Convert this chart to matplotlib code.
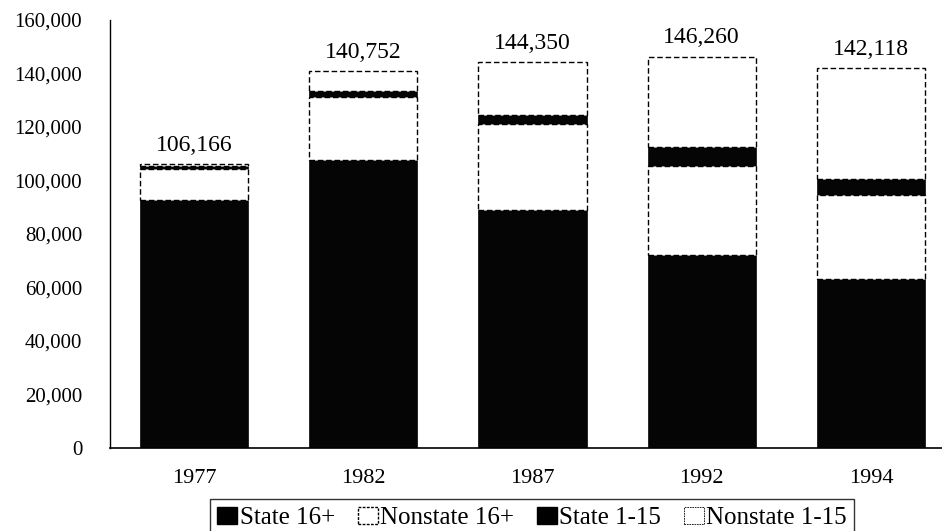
import matplotlib
matplotlib.use("Agg")
import matplotlib.pyplot as plt
from matplotlib.patches import Patch

plt.rcParams['font.family'] = ['Liberation Serif', 'DejaVu Serif']

years = ["1977", "1982", "1987", "1992", "1994"]
state_16 = [92600, 107600, 89000, 72300, 63300]
nonstate_16 = [11700, 23800, 32300, 33300, 31200]
state_1_15 = [1200, 1900, 3300, 6800, 5900]
totals = [106166, 140752, 144350, 146260, 142118]
nonstate_1_15 = [t - a - b - c for t, a, b, c in zip(totals, state_16, nonstate_16, state_1_15)]
total_labels = ["106,166", "140,752", "144,350", "146,260", "142,118"]
y_ticks = [0, 20000, 40000, 60000, 80000, 100000, 120000, 140000, 160000]
y_tick_labels = ["0", "20,000", "40,000", "60,000", "80,000", "100,000", "120,000", "140,000", "160,000"]

fig = plt.figure(figsize=(9.42, 5.31), dpi=100)
ax = fig.add_axes([110/942, 83/531, 832/942, (448-20)/531])

x = list(range(len(years)))
w = 0.64
bottom = [0]*len(years)
series = [
    (state_16, "State 16+", "black"),
    (nonstate_16, "Nonstate 16+", "white"),
    (state_1_15, "State 1-15", "black"),
    (nonstate_1_15, "Nonstate 1-15", "white"),
]
for vals, lab, col in series:
    if col == "black":
        ax.bar(x, vals, w, bottom=bottom, color="#050505", edgecolor="#050505",
               linewidth=0.5, zorder=2)
    else:
        ax.bar(x, vals, w, bottom=bottom, color="white", edgecolor="black",
               linewidth=1.0, linestyle=(0, (4, 2)), zorder=3)
    bottom = [b + v for b, v in zip(bottom, vals)]

for xi, t, lab in zip(x, totals, total_labels):
    ax.annotate(lab, (xi, t), xytext=(0, 6), textcoords="offset points",
                ha="center", va="bottom", fontsize=17)

ax.set_xlim(-0.497, 4.42)
ax.set_ylim(0, 160000)
ax.set_yticks(y_ticks)
ax.set_yticklabels(y_tick_labels)
ax.set_xticks(x)
ax.set_xticklabels(years)
ax.tick_params(axis="y", length=0, pad=20, labelsize=15)
ax.tick_params(axis="x", length=0, pad=15, labelsize=16)
for s in ["top", "right"]:
    ax.spines[s].set_visible(False)
ax.spines["left"].set_linewidth(1.0)
ax.spines["bottom"].set_linewidth(1.2)

handles = [
    Patch(facecolor="black", edgecolor="black"),
    Patch(facecolor="white", edgecolor="black", linestyle=(0, (2, 1))),
    Patch(facecolor="black", edgecolor="black"),
    Patch(facecolor="white", edgecolor="black", linestyle=(0, (2, 1)), linewidth=0.6),
]
labels = ["State 16+", "Nonstate 16+", "State 1-15", "Nonstate 1-15"]
leg = fig.legend(handles, labels, loc="upper center", bbox_to_anchor=(532/942, 1 - 499/531),
                 ncol=4, fontsize=18, frameon=True, fancybox=False, edgecolor="black",
                 handlelength=0.8, handleheight=0.7, handletextpad=0.1, columnspacing=0.9,
                 borderpad=0.3, borderaxespad=0)
leg.get_frame().set_linewidth(1.0)

fig.savefig("out.png", dpi=100)
